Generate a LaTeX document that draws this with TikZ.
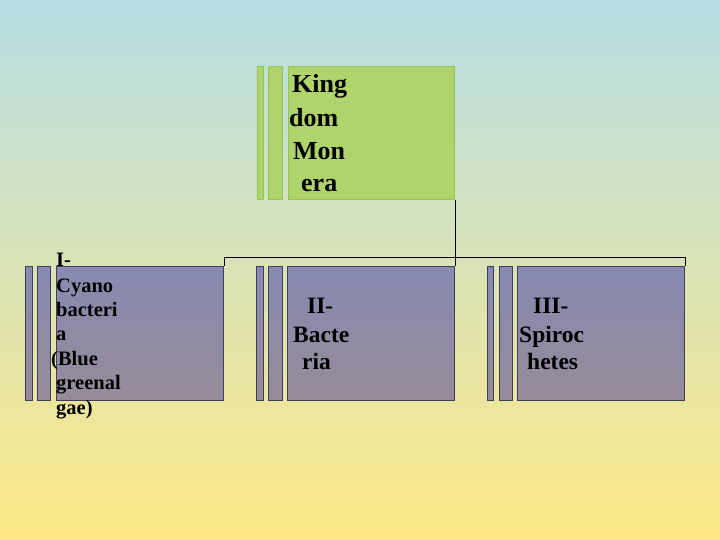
\documentclass[tikz,border=0pt]{standalone}
\usepackage{fontspec}
\setmainfont{Liberation Serif}
\definecolor{bgtop}{RGB}{182,222,228}
\definecolor{bgbot}{RGB}{254,232,134}
\definecolor{gfill}{RGB}{176,212,108}
\definecolor{gline}{RGB}{150,196,84}
\definecolor{ptop}{RGB}{136,138,178}
\definecolor{pbot}{RGB}{150,139,152}
\definecolor{pline}{RGB}{62,62,92}
\tikzset{
  gbox/.style={draw=gline, fill=gfill, line width=1pt, inner sep=0pt, anchor=north west},
  pbox/.style={draw=pline, top color=ptop, bottom color=pbot, line width=1pt, inner sep=0pt, anchor=north west},
  lbl/.style={anchor=base west, inner sep=0pt},
  tfont/.style={font=\bfseries\fontsize{26}{30}\selectfont},
  afont/.style={font=\bfseries\fontsize{20.5}{24}\selectfont},
  bfont/.style={font=\bfseries\fontsize{23.5}{28}\selectfont},
  conn/.style={draw=black, line width=0.9pt}
}
\begin{document}
\begin{tikzpicture}[x=1pt,y=-1pt]
\useasboundingbox (0,0) rectangle (720,540);
\shade[top color=bgtop, bottom color=bgbot] (0,0) rectangle (720,540);

% top box
\node[gbox, minimum width=6pt, minimum height=133pt] (tb1) at (257,66) {};
\node[gbox, minimum width=14pt, minimum height=133pt] (tb2) at (268,66) {};
\node[gbox, minimum width=166pt, minimum height=133pt] (top) at (288,66) {};

% child boxes
\node[pbox, minimum width=7pt, minimum height=134pt] (ab1) at (25,266) {};
\node[pbox, minimum width=13pt, minimum height=134pt] (ab2) at (37,266) {};
\node[pbox, minimum width=167pt, minimum height=134pt] (c1) at (56,266) {};

\node[pbox, minimum width=7pt, minimum height=134pt] (bb1) at (256,266) {};
\node[pbox, minimum width=14pt, minimum height=134pt] (bb2) at (268,266) {};
\node[pbox, minimum width=167pt, minimum height=134pt] (c2) at (287,266) {};

\node[pbox, minimum width=6pt, minimum height=134pt] (cb1) at (487,266) {};
\node[pbox, minimum width=13pt, minimum height=134pt] (cb2) at (499,266) {};
\node[pbox, minimum width=167pt, minimum height=134pt] (c3) at (517,266) {};

% connectors
\coordinate (bus) at (454,257);
\draw[conn] (top.south east) -- (c2.north east);
\draw[conn] (c1.north east) -- (c1.north east |- bus) -- (c3.north east |- bus) -- (c3.north east);

% top text
\node[lbl, tfont] (t1) at (292,93) {King};
\node[lbl, tfont] (t2) at (289,127) {dom};
\node[lbl, tfont] (t3) at (293,160) {Mon};
\node[lbl, tfont] (t4) at (301,192) {era};

% child 1 text
\node[lbl, afont] (a1) at (56,266) {I-};
\node[lbl, afont] (a2) at (56,292) {Cyano};
\node[lbl, afont] (a3) at (56,316) {bacteri};
\node[lbl, afont] (a4) at (56,340) {a};
\node[lbl, afont] (a5) at (51,365) {(Blue};
\node[lbl, afont] (a6) at (56,389) {greenal};
\node[lbl, afont] (a7) at (56,414) {gae)};

% child 2 and 3 text
\node[lbl, bfont] (b1) at (307,313) {II-};
\node[lbl, bfont] (b2) at (293,342) {Bacte};
\node[lbl, bfont] (b3) at (302,369) {ria};
\node[lbl, bfont] (d1) at (533,313) {III-};
\node[lbl, bfont] (d2) at (519,342) {Spiroc};
\node[lbl, bfont] (d3) at (527,369) {hetes};
\end{tikzpicture}
\end{document}
